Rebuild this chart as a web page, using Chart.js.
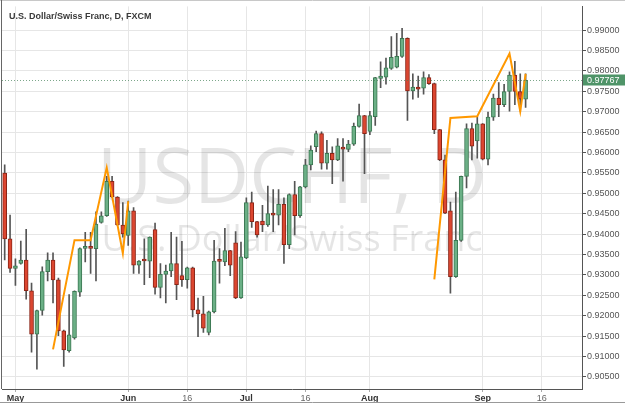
<!DOCTYPE html>
<html>
<head>
<meta charset="utf-8">
<script src="https://cdn.jsdelivr.net/npm/chart.js@4.4.1/dist/chart.umd.min.js"></script>
<style>
  html, body { margin: 0; padding: 0; background: #fff; }
  #wrap { width: 625px; height: 406px; }
</style>
</head>
<body>
<div id="wrap"><canvas id="usdchf" width="625" height="406"></canvas></div>
<script>
// daily bars, USD/CHF (FXCM), last 10 slots are empty future days
const dates = [
    '2015-04-29', '2015-04-30',
    '2015-05-01', '2015-05-04', '2015-05-05', '2015-05-06', '2015-05-07', '2015-05-08',
    '2015-05-11', '2015-05-12', '2015-05-13', '2015-05-14', '2015-05-15',
    '2015-05-18', '2015-05-19', '2015-05-20', '2015-05-21', '2015-05-22',
    '2015-05-25', '2015-05-26', '2015-05-27', '2015-05-28', '2015-05-29',
    '2015-06-01', '2015-06-02', '2015-06-03', '2015-06-04', '2015-06-05',
    '2015-06-08', '2015-06-09', '2015-06-10', '2015-06-11', '2015-06-12',
    '2015-06-15', '2015-06-16', '2015-06-17', '2015-06-18', '2015-06-19',
    '2015-06-22', '2015-06-23', '2015-06-24', '2015-06-25', '2015-06-26',
    '2015-06-29', '2015-06-30', '2015-07-01', '2015-07-02', '2015-07-03',
    '2015-07-06', '2015-07-07', '2015-07-08', '2015-07-09', '2015-07-10',
    '2015-07-13', '2015-07-14', '2015-07-15', '2015-07-16', '2015-07-17',
    '2015-07-20', '2015-07-21', '2015-07-22', '2015-07-23', '2015-07-24',
    '2015-07-27', '2015-07-28', '2015-07-29', '2015-07-30', '2015-07-31',
    '2015-08-03', '2015-08-04', '2015-08-05', '2015-08-06', '2015-08-07',
    '2015-08-10', '2015-08-11', '2015-08-12', '2015-08-13', '2015-08-14',
    '2015-08-17', '2015-08-18', '2015-08-19', '2015-08-20', '2015-08-21',
    '2015-08-24', '2015-08-25', '2015-08-26', '2015-08-27', '2015-08-28',
    '2015-08-31', '2015-09-01', '2015-09-02', '2015-09-03', '2015-09-04',
    '2015-09-07', '2015-09-08', '2015-09-09', '2015-09-10', '2015-09-11',
    '2015-09-14', '2015-09-15', '2015-09-16', '2015-09-17', '2015-09-18',
    '2015-09-21', '2015-09-22', '2015-09-23', '2015-09-24', '2015-09-25'
];

const opens = [
    0.95495, 0.93883, 0.93158, 0.93279, 0.93361, 0.92612, 0.91548, 0.92128, 0.93078, 0.93361,
    0.92878, 0.91628, 0.91145, 0.91452, 0.92578, 0.93650, 0.93660, 0.93642, 0.94287, 0.94449,
    0.95295, 0.94908, 0.94222, 0.93965, 0.94570, 0.93240, 0.93345, 0.93337, 0.94110, 0.92692,
    0.93013, 0.93095, 0.93279, 0.92982, 0.92885, 0.93175, 0.92143, 0.92046, 0.91587, 0.92095,
    0.93340, 0.93320, 0.93593, 0.93787, 0.92433, 0.93417, 0.94770, 0.94304, 0.94318, 0.94222,
    0.94504, 0.94463, 0.94729, 0.93738, 0.94971, 0.94449, 0.95157, 0.95696, 0.96141, 0.96462,
    0.95737, 0.95979, 0.95817, 0.96124, 0.96075, 0.96204, 0.96639, 0.96904, 0.96518, 0.96880,
    0.97816, 0.97847, 0.98057, 0.98089, 0.98355, 0.98799, 0.97509, 0.97605, 0.97574, 0.97833,
    0.97688, 0.96559, 0.95817, 0.94570, 0.92957, 0.93845, 0.95416, 0.96583, 0.96286, 0.96704,
    0.95834, 0.96866, 0.97332, 0.97170, 0.97494, 0.97895, 0.97494, 0.97308
];
const highs = [
    0.95696, 0.94463, 0.93393, 0.93828, 0.94118, 0.92796, 0.92140, 0.93199, 0.93538, 0.93538,
    0.92920, 0.91650, 0.92515, 0.92610, 0.93660, 0.94045, 0.94045, 0.94545, 0.94545, 0.95416,
    0.95416, 0.94920, 0.94770, 0.94811, 0.94649, 0.93350, 0.93883, 0.93930, 0.94270, 0.93279,
    0.93240, 0.94045, 0.93924, 0.93820, 0.93190, 0.93190, 0.92433, 0.92474, 0.92110, 0.93845,
    0.93642, 0.94142, 0.93600, 0.94062, 0.93803, 0.94891, 0.95029, 0.94310, 0.94705, 0.95174,
    0.95092, 0.95092, 0.94891, 0.94985, 0.95295, 0.95170, 0.95834, 0.96165, 0.96527, 0.96503,
    0.96300, 0.96141, 0.96341, 0.96341, 0.96300, 0.96721, 0.97187, 0.96910, 0.97011, 0.97840,
    0.98219, 0.98316, 0.98838, 0.98920, 0.99041, 0.98810, 0.97929, 0.97871, 0.97978, 0.97912,
    0.97700, 0.96570, 0.95938, 0.94787, 0.95029, 0.95420, 0.96704, 0.96721, 0.96880, 0.96710,
    0.96987, 0.97429, 0.97712, 0.97671, 0.97978, 0.98234, 0.97929, 0.97929
];
const lows = [
    0.93368, 0.93061, 0.92740, 0.93260, 0.92402, 0.91104, 0.90686, 0.92015, 0.92854, 0.92312,
    0.91507, 0.90758, 0.91104, 0.91427, 0.92474, 0.93320, 0.93037, 0.92854, 0.94270, 0.94430,
    0.94891, 0.94207, 0.93924, 0.93724, 0.93037, 0.93037, 0.92757, 0.92933, 0.92530, 0.92433,
    0.92312, 0.92957, 0.92394, 0.92716, 0.92675, 0.91967, 0.91483, 0.91587, 0.91531, 0.92070,
    0.92796, 0.93223, 0.92982, 0.92418, 0.92420, 0.93400, 0.94166, 0.93924, 0.94062, 0.94190,
    0.94062, 0.94222, 0.93279, 0.93642, 0.93980, 0.94408, 0.95133, 0.95575, 0.96020, 0.95592,
    0.95592, 0.95237, 0.95800, 0.95295, 0.96020, 0.96172, 0.96620, 0.95478, 0.96438, 0.96663,
    0.97591, 0.97671, 0.98033, 0.98074, 0.98330, 0.96784, 0.97308, 0.97349, 0.97429, 0.97670,
    0.96462, 0.95800, 0.94500, 0.92554, 0.92940, 0.93820, 0.95133, 0.95817, 0.95858, 0.95817,
    0.95696, 0.96784, 0.96880, 0.97122, 0.97011, 0.97170, 0.97011, 0.97107
];
const closes = [
    0.93883, 0.93158, 0.93223, 0.93361, 0.92612, 0.91548, 0.92128, 0.93078, 0.93361, 0.92878,
    0.91628, 0.91162, 0.91531, 0.92595, 0.93642, 0.93660, 0.93650, 0.94246, 0.94449, 0.95295,
    0.94908, 0.94222, 0.94004, 0.94570, 0.93240, 0.93337, 0.93340, 0.93924, 0.92692, 0.93013,
    0.93095, 0.93279, 0.92757, 0.92885, 0.93175, 0.92143, 0.92046, 0.91693, 0.92095, 0.93337,
    0.93330, 0.93593, 0.93240, 0.92433, 0.93441, 0.94770, 0.94304, 0.93980, 0.94222, 0.94504,
    0.94463, 0.94729, 0.93738, 0.94971, 0.94449, 0.95157, 0.95696, 0.96059, 0.96462, 0.95737,
    0.95979, 0.95817, 0.96165, 0.96083, 0.96204, 0.96639, 0.96904, 0.96462, 0.96904, 0.97833,
    0.97871, 0.98074, 0.98330, 0.98355, 0.98799, 0.97509, 0.97605, 0.97550, 0.97833, 0.97688,
    0.96559, 0.95817, 0.94512, 0.92957, 0.93845, 0.95416, 0.96583, 0.96155, 0.96704, 0.95834,
    0.96866, 0.97332, 0.97170, 0.97494, 0.97895, 0.97494, 0.97308, 0.97767
];

// zigzag overlay (two separate legs)
const zz1Dates = ['2015-05-12', '2015-05-18', '2015-05-21', '2015-05-26', '2015-05-29', '2015-06-01'];
const zz1Values = [0.91173, 0.93851, 0.93851, 0.95628, 0.93529, 0.94804];
const zz2Dates = ['2015-08-19', '2015-08-24', '2015-08-31', '2015-09-08', '2015-09-10', '2015-09-11'];
const zz2Values = [0.92892, 0.96845, 0.96886, 0.98426, 0.97008, 0.97928];

const xTickDates = ['2015-05-01', '2015-06-01', '2015-06-16', '2015-07-01', '2015-07-16', '2015-08-03', '2015-09-01', '2015-09-16'];
const xTickText = ['May', 'Jun', '16', 'Jul', '16', 'Aug', 'Sep', '16'];
const yTicks = [0.905, 0.91, 0.915, 0.92, 0.925, 0.93, 0.935, 0.94, 0.945, 0.95,
    0.955, 0.96, 0.965, 0.97, 0.975, 0.98, 0.985, 0.99];

const lastPrice = closes[closes.length - 1];

const UP_FILL = '#6bb086', UP_EDGE = '#3b7752';
const DN_FILL = '#dc4630', DN_EDGE = '#8a2416';

const bodyFill = opens.map((o, i) => closes[i] >= o ? UP_FILL : DN_FILL);
const bodyEdge = opens.map((o, i) => closes[i] >= o ? UP_EDGE : DN_EDGE);

// watermark, title, last price tag and frame
const decorPlugin = {
    id: 'decor',
    beforeDatasetsDraw(chart) {
        const { ctx, chartArea: a } = chart;
        const cx = (a.left + a.right) / 2;
        const cy = (a.top + a.bottom) / 2;
        ctx.save();
        ctx.fillStyle = 'rgba(0, 0, 0, 0.1)';
        ctx.textAlign = 'center';
        ctx.textBaseline = 'alphabetic';
        ctx.font = '76px "Open Sans"';
        ctx.fillText('USDCHF, D', cx, cy + 5);
        ctx.font = '36px "Open Sans"';
        ctx.fillText('U.S. Dollar/Swiss Franc', cx, cy + 53);
        ctx.restore();
    },
    afterDraw(chart) {
        const { ctx, chartArea: a } = chart;
        const y = Math.round(chart.scales.y.getPixelForValue(lastPrice)) + 0.5;
        ctx.save();
        // dotted last price line
        ctx.strokeStyle = 'rgba(70, 130, 90, 0.7)';
        ctx.lineWidth = 1;
        ctx.setLineDash([1, 2]);
        ctx.beginPath();
        ctx.moveTo(a.left, y);
        ctx.lineTo(a.right, y);
        ctx.stroke();
        ctx.setLineDash([]);
        // tag
        ctx.fillStyle = '#4f9468';
        ctx.fillRect(a.right + 1, y - 6, chart.width - a.right - 1, 11);
        ctx.fillStyle = '#ffffff';
        ctx.font = '9px "Liberation Sans"';
        ctx.textAlign = 'left';
        ctx.textBaseline = 'middle';
        ctx.fillText(lastPrice.toFixed(5), a.right + 5, y);
        // title
        ctx.fillStyle = '#3a3a3a';
        ctx.font = 'bold 9px "Liberation Sans"';
        ctx.textBaseline = 'alphabetic';
        ctx.fillText('U.S. Dollar/Swiss Franc, D, FXCM', 9, 18.5);
        // frame
        ctx.strokeStyle = '#c8c8c8';
        ctx.beginPath();
        ctx.moveTo(0, 0.5);
        ctx.lineTo(chart.width, 0.5);
        ctx.stroke();
        ctx.strokeStyle = '#666';
        ctx.beginPath();
        ctx.moveTo(a.left - 0.5, 0);
        ctx.lineTo(a.left - 0.5, a.bottom);
        ctx.stroke();
        ctx.strokeStyle = '#999';
        ctx.beginPath();
        ctx.moveTo(0, 402.5);
        ctx.lineTo(chart.width, 402.5);
        ctx.stroke();
        ctx.restore();
    }
};

const ctx = document.getElementById('usdchf').getContext('2d');
new Chart(ctx, {
    type: 'bar',
    data: {
        labels: dates,
        datasets: [
            {
                type: 'line',
                label: 'ZigZag',
                data: zz1Dates.map((d, i) => ({ x: d, y: zz1Values[i] })),
                borderColor: '#ff9800',
                borderWidth: 2,
                pointRadius: 0,
                tension: 0,
                order: 0
            },
            {
                type: 'line',
                label: 'ZigZag 2',
                data: zz2Dates.map((d, i) => ({ x: d, y: zz2Values[i] })),
                borderColor: '#ff9800',
                borderWidth: 2,
                pointRadius: 0,
                tension: 0,
                order: 0
            },
            {
                label: 'Body',
                data: opens.map((o, i) => [o, closes[i]]),
                backgroundColor: bodyFill,
                borderColor: bodyEdge,
                borderWidth: 1,
                borderSkipped: false,
                barThickness: 4,
                minBarLength: 2,
                grouped: false,
                order: 1
            },
            {
                label: 'Wick',
                data: lows.map((l, i) => [l, highs[i]]),
                backgroundColor: '#555555',
                borderWidth: 0,
                barThickness: 1,
                grouped: false,
                order: 2
            }
        ]
    },
    options: {
        responsive: false,
        animation: false,
        devicePixelRatio: 1,
        layout: { padding: { left: 2, top: 1, right: 0, bottom: 0 } },
        plugins: {
            legend: { display: false },
            tooltip: { enabled: false }
        },
        scales: {
            x: {
                offset: true,
                grid: { offset: false, color: '#e6e6e6', tickLength: 3, tickColor: '#aaaaaa' },
                border: { color: '#555555' },
                afterBuildTicks: axis => {
                    axis.ticks = xTickDates.map(d => ({ value: dates.indexOf(d) }));
                },
                afterFit: axis => { axis.height = 17; },
                ticks: {
                    autoSkip: false,
                    maxRotation: 0,
                    padding: 1,
                    callback: (value, index) => xTickText[index],
                    color: c => xTickText[c.index] === '16' ? '#666666' : '#333333',
                    font: c => ({
                        family: '"Liberation Sans"',
                        size: 9,
                        weight: xTickText[c.index] === '16' ? 'normal' : 'bold'
                    })
                }
            },
            y: {
                position: 'right',
                min: 0.90203,
                max: 0.9958,
                grid: { color: '#e6e6e6', tickLength: 4, tickColor: '#555555' },
                border: { color: '#555555' },
                afterBuildTicks: axis => {
                    axis.ticks = yTicks.map(v => ({ value: v }));
                },
                afterFit: axis => { axis.width = 43; },
                ticks: {
                    padding: 1,
                    color: '#555555',
                    font: { family: '"Liberation Sans"', size: 9 },
                    callback: v => Number(v).toFixed(5)
                }
            }
        }
    },
    plugins: [decorPlugin]
});
</script>
</body>
</html>
